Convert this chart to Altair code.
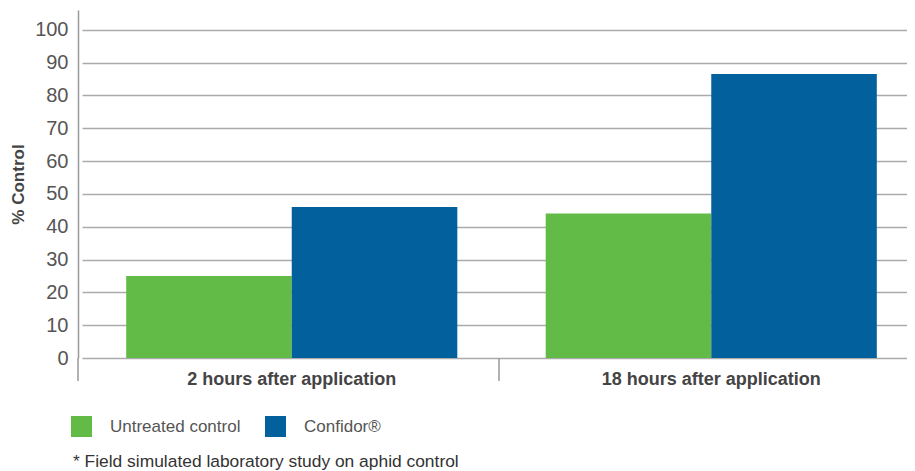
import altair as alt
import pandas as pd

times = ["2 hours after application", "18 hours after application"]
series = ["Untreated control", "Confidor®"]
untreated = [25, 44]
confidor = [46, 86.5]
y_ticks = list(range(0, 101, 10))
colors = ["#62BB47", "#02609C"]
footnote = "* Field simulated laboratory study on aphid control"

rows = []
for i, t in enumerate(times):
    rows.append({"time": t, "series": series[0], "value": untreated[i]})
    rows.append({"time": t, "series": series[1], "value": confidor[i]})
df = pd.DataFrame(rows)

FONT = "Liberation Sans"
W, H = 829, 348

bars = alt.Chart(df).mark_bar().encode(
    x=alt.X("time:N", sort=times,
            scale=alt.Scale(range=[4, 843], paddingInner=0, paddingOuter=0),
            axis=alt.Axis(title=None, labelFont=FONT, labelFontSize=18, labelFontWeight="bold",
                          labelColor="#444444", domain=False, ticks=False, labelPadding=12,
                          labelAngle=0, grid=False, labelLimit=0)),
    xOffset=alt.XOffset("series:N", sort=series,
                        scale=alt.Scale(paddingInner=0, paddingOuter=0.267)),
    y=alt.Y("value:Q", scale=alt.Scale(domain=[0, 106], nice=False, zero=True),
            axis=alt.Axis(values=y_ticks, title="% Control", grid=True, gridColor="#aaaaaa",
                          gridWidth=1.5, ticks=False, domain=True, domainColor="#999999",
                          domainWidth=1.5, labelFont=FONT, labelFontSize=20, labelColor="#555555",
                          labelPadding=10, titleFont=FONT, titleFontSize=17, titleFontWeight="bold",
                          titleColor="#444444", titlePadding=7)),
    color=alt.Color("series:N", sort=series,
                    scale=alt.Scale(domain=series, range=colors),
                    legend=alt.Legend(title=None, orient="none", legendX=-7, legendY=406,
                                      direction="horizontal", symbolType="square",
                                      symbolSize=441, symbolStrokeWidth=0, symbolOpacity=1,
                                      labelFont=FONT, labelFontSize=17, labelColor="#555555",
                                      labelOffset=18, columnPadding=24, padding=0, labelLimit=0)),
)

sep0 = alt.Chart(pd.DataFrame({"a": [0]})).mark_rule(color="#999999", strokeWidth=1.5).encode(
    x=alt.value(0), y=alt.value(H), y2=alt.value(H + 23))
sep1 = alt.Chart(pd.DataFrame({"a": [0]})).mark_rule(color="#999999", strokeWidth=1.5).encode(
    x=alt.value(421), y=alt.value(H), y2=alt.value(H + 23))

note = alt.Chart(pd.DataFrame({"t": [footnote]})).mark_text(
    align="left", baseline="middle", font=FONT, fontSize=17.4, color="#333333").encode(
    text="t:N", x=alt.value(-5), y=alt.value(H + 104))

chart = alt.layer(bars, sep0, sep1, note).properties(
    width=W, height=H,
    autosize=alt.AutoSizeParams(type="none"),
    padding={"left": 70, "top": 2, "right": 0, "bottom": 113},
).configure_view(stroke=None)

chart.save("out.html", embed_options={"renderer": "svg", "actions": False})
